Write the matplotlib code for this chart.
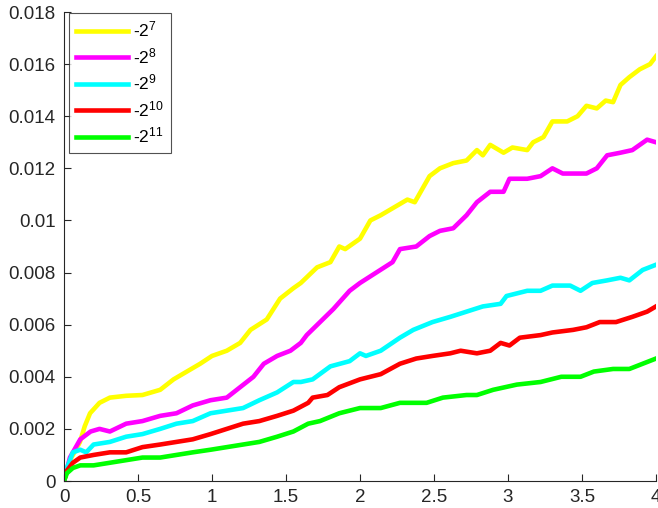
import matplotlib
matplotlib.use("Agg")
import matplotlib.pyplot as plt

plt.rcParams['font.family'] = ['Liberation Sans', 'DejaVu Sans']
plt.rcParams['mathtext.default'] = 'regular'

labels = [r'-2$^{7}$', r'-2$^{8}$', r'-2$^{9}$', r'-2$^{10}$', r'-2$^{11}$']
colors = ['#ffff00', '#ff00ff', '#00ffff', '#ff0000', '#00ff00']

x_yellow = [0, 0.04, 0.08, 0.108, 0.14, 0.176, 0.24, 0.31, 0.42, 0.53, 0.65, 0.74, 0.83, 0.92, 1.0, 1.1,
            1.19, 1.26, 1.37, 1.46, 1.55, 1.6, 1.71, 1.80, 1.86, 1.90, 2.0, 2.07, 2.14, 2.20,
            2.32, 2.37, 2.47, 2.54, 2.63, 2.72, 2.79, 2.83, 2.88, 2.97, 3.03, 3.13, 3.17, 3.24,
            3.30, 3.40, 3.47, 3.53, 3.60, 3.66, 3.71, 3.76, 3.82, 3.89, 3.96, 4.0]
y_yellow = [0, 0.0008, 0.0012, 0.0015, 0.0021, 0.0026, 0.0030, 0.0032, 0.00327, 0.0033, 0.0035, 0.0039, 0.0042,
            0.0045, 0.0048, 0.0050, 0.0053, 0.0058, 0.0062, 0.0070, 0.0074, 0.0076, 0.0082,
            0.0084, 0.0090, 0.0089, 0.0093, 0.0100, 0.0102, 0.0104, 0.0108, 0.0107, 0.0117,
            0.0120, 0.0122, 0.0123, 0.0127, 0.0125, 0.0129, 0.0126, 0.0128, 0.0127, 0.0130,
            0.0132, 0.0138, 0.0138, 0.0140, 0.0144, 0.0143, 0.0146, 0.01454, 0.0152, 0.0155,
            0.0158, 0.0160, 0.0163]

x_magenta = [0, 0.04, 0.11, 0.18, 0.24, 0.31, 0.42, 0.53, 0.65, 0.76, 0.87, 0.99, 1.10, 1.19,
             1.28, 1.35, 1.44, 1.53, 1.60, 1.64, 1.73, 1.82, 1.93, 2.0, 2.11, 2.22, 2.27, 2.38,
             2.47, 2.54, 2.63, 2.72, 2.79, 2.88, 2.97, 3.01, 3.13, 3.22, 3.30, 3.37, 3.47, 3.53,
             3.60, 3.67, 3.76, 3.84, 3.94, 4.0]
y_magenta = [0, 0.0009, 0.0016, 0.0019, 0.0020, 0.0019, 0.0022, 0.0023, 0.0025, 0.0026, 0.0029,
             0.0031, 0.0032, 0.0036, 0.0040, 0.0045, 0.0048, 0.0050, 0.0053, 0.0056, 0.0061,
             0.0066, 0.0073, 0.0076, 0.0080, 0.0084, 0.0089, 0.0090, 0.0094, 0.0096, 0.0097,
             0.0102, 0.0107, 0.0111, 0.0111, 0.0116, 0.0116, 0.0117, 0.0120, 0.0118, 0.0118,
             0.0118, 0.0120, 0.0125, 0.0126, 0.0127, 0.0131, 0.0130]

x_cyan = [0, 0.02, 0.06, 0.11, 0.15, 0.20, 0.31, 0.42, 0.53, 0.65, 0.76, 0.87, 0.99, 1.10, 1.21,
          1.32, 1.44, 1.55, 1.60, 1.68, 1.80, 1.93, 2.0, 2.04, 2.14, 2.27, 2.36, 2.49, 2.61,
          2.72, 2.83, 2.95, 2.99, 3.13, 3.22, 3.30, 3.42, 3.49, 3.57, 3.67, 3.76, 3.82, 3.91, 4.0]
y_cyan = [0, 0.0005, 0.0011, 0.0012, 0.0011, 0.0014, 0.0015, 0.0017, 0.0018, 0.0020, 0.0022,
          0.0023, 0.0026, 0.0027, 0.0028, 0.0031, 0.0034, 0.0038, 0.0038, 0.0039, 0.0044,
          0.0046, 0.0049, 0.0048, 0.0050, 0.0055, 0.0058, 0.0061, 0.0063, 0.0065, 0.0067,
          0.0068, 0.0071, 0.0073, 0.0073, 0.0075, 0.0075, 0.0073, 0.0076, 0.0077, 0.0078,
          0.0077, 0.0081, 0.0083]

x_red = [0, 0.02, 0.06, 0.11, 0.20, 0.31, 0.42, 0.53, 0.65, 0.76, 0.87, 0.99, 1.10, 1.21, 1.32,
         1.44, 1.55, 1.65, 1.68, 1.78, 1.86, 2.0, 2.14, 2.27, 2.38, 2.49, 2.61, 2.68, 2.79, 2.88,
         2.95, 3.01, 3.08, 3.22, 3.30, 3.44, 3.53, 3.62, 3.73, 3.84, 3.94, 4.0]
y_red = [0, 0.0004, 0.0007, 0.0009, 0.0010, 0.0011, 0.0011, 0.0013, 0.0014, 0.0015, 0.0016,
         0.0018, 0.0020, 0.0022, 0.0023, 0.0025, 0.0027, 0.0030, 0.0032, 0.0033, 0.0036, 0.0039,
         0.0041, 0.0045, 0.0047, 0.0048, 0.0049, 0.0050, 0.0049, 0.0050, 0.0053, 0.0052, 0.0055,
         0.0056, 0.0057, 0.0058, 0.0059, 0.0061, 0.0061, 0.0063, 0.0065, 0.0067]

x_green = [0, 0.02, 0.06, 0.11, 0.20, 0.31, 0.42, 0.53, 0.65, 0.76, 0.87, 0.99, 1.10, 1.21, 1.32,
           1.44, 1.55, 1.65, 1.73, 1.86, 2.0, 2.14, 2.27, 2.45, 2.56, 2.72, 2.79, 2.90, 3.06,
           3.22, 3.36, 3.49, 3.58, 3.71, 3.82, 3.91, 4.0]
y_green = [0, 0.0003, 0.0005, 0.0006, 0.0006, 0.0007, 0.0008, 0.0009, 0.0009, 0.0010, 0.0011,
           0.0012, 0.0013, 0.0014, 0.0015, 0.0017, 0.0019, 0.0022, 0.0023, 0.0026, 0.0028,
           0.0028, 0.0030, 0.0030, 0.0032, 0.0033, 0.0033, 0.0035, 0.0037, 0.0038, 0.0040,
           0.0040, 0.0042, 0.0043, 0.0043, 0.0045, 0.0047]

xs = [x_yellow, x_magenta, x_cyan, x_red, x_green]
ys = [y_yellow, y_magenta, y_cyan, y_red, y_green]

x_ticks = [0, 0.5, 1, 1.5, 2, 2.5, 3, 3.5, 4]
x_ticklabels = ['0', '0.5', '1', '1.5', '2', '2.5', '3', '3.5', '4']
y_ticks = [0, 0.002, 0.004, 0.006, 0.008, 0.01, 0.012, 0.014, 0.016, 0.018]
y_ticklabels = ['0', '0.002', '0.004', '0.006', '0.008', '0.01', '0.012', '0.014', '0.016', '0.018']

fig = plt.figure(figsize=(6.58, 5.08), dpi=100)
ax = fig.add_axes([64 / 658, 27 / 508, 592 / 658, 469 / 508])

for x, y, c, lab in zip(xs, ys, colors, labels):
    ax.plot(x, y, color=c, lw=3.3, label=lab, solid_joinstyle='round')

ax.set_xlim(0, 4)
ax.set_ylim(0, 0.018)
ax.set_xticks(x_ticks)
ax.set_xticklabels(x_ticklabels)
ax.set_yticks(y_ticks)
ax.set_yticklabels(y_ticklabels)

axcol = '#262626'
for s in ['top', 'right']:
    ax.spines[s].set_visible(False)
for s in ['left', 'bottom']:
    ax.spines[s].set_color(axcol)
    ax.spines[s].set_linewidth(0.8)
ax.tick_params(direction='in', length=5, width=0.8, colors=axcol, labelsize=13.5,
               labelcolor=axcol, pad=6)

leg = ax.legend(loc='upper left', bbox_to_anchor=(5 / 592, 1 - 1 / 469),
                fontsize=12.5, frameon=True, fancybox=False,
                edgecolor=axcol, handlelength=3.0, handletextpad=0.3,
                borderaxespad=0.0, labelspacing=0.38, borderpad=0.4)
leg.get_frame().set_linewidth(0.8)
for t in leg.get_texts():
    t.set_color('black')

fig.savefig('out.png', dpi=100)
